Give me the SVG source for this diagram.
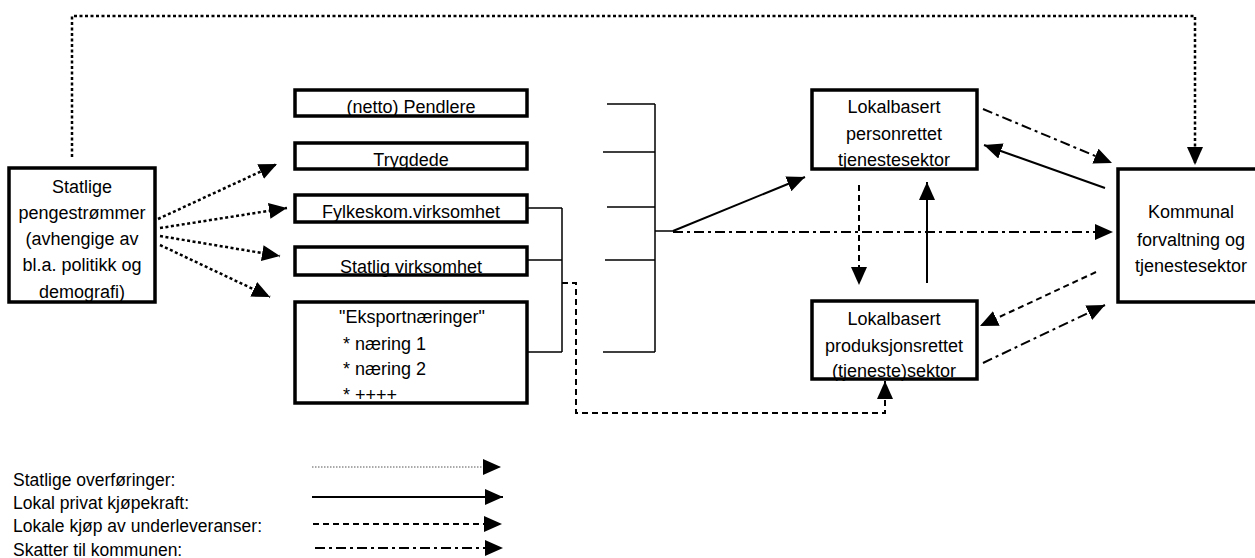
<svg xmlns="http://www.w3.org/2000/svg" width="1255" height="558" viewBox="0 0 1255 558">
<style>
text{font-family:"Liberation Sans",Arial,sans-serif;font-size:18px;fill:#000}
.c{text-anchor:middle}
.box{fill:#fff;stroke:#000;stroke-width:3.5}
.br{fill:none;stroke:#000;stroke-width:1.5}
.dot{fill:none;stroke:#000;stroke-width:2.5;stroke-dasharray:3 2.5}
.sol{fill:none;stroke:#000;stroke-width:2}
.dash{fill:none;stroke:#000;stroke-width:2;stroke-dasharray:6 4}
.dd{fill:none;stroke:#000;stroke-width:2;stroke-dasharray:10 4 3 4}
.lg{font-size:17.5px}
</style>
<defs>
<marker id="ah" markerUnits="userSpaceOnUse" markerWidth="18" markerHeight="16" refX="18" refY="8" orient="auto" viewBox="0 0 18 16">
<path d="M0,0 L18,8 L0,16 z" fill="#000"/>
</marker>
</defs>

<g id="connectors">
<path class="dot" d="M72,157 V16 H1195 V165" marker-end="url(#ah)"/>
<path class="dot" d="M158,219 L277,164" marker-end="url(#ah)"/>
<path class="dot" d="M160,228 L287,208" marker-end="url(#ah)"/>
<path class="dot" d="M160,236 L280,256" marker-end="url(#ah)"/>
<path class="dot" d="M160,245 L270,297" marker-end="url(#ah)"/>
<path class="br" d="M527,208 H562 M527,260 H562 M527,352 H562 M562,208 V352"/>
<path class="dash" d="M562,283 H576 V413 H885 V381" marker-end="url(#ah)"/>
<path class="br" d="M607,104 H655 M603,152 H655 M607,207 H655 M605,260 H655 M603,352 H655 M655,104 V352 M655,231 H673"/>
<path class="sol" d="M673,231 L805,177" marker-end="url(#ah)"/>
<path class="dd" d="M673,232 H1113" marker-end="url(#ah)"/>
<path class="dash" d="M859,185 V285" marker-end="url(#ah)"/>
<path class="sol" d="M927,283 V182" marker-end="url(#ah)"/>
<path class="dd" d="M983,109 L1112,163" marker-end="url(#ah)"/>
<path class="sol" d="M1105,188 L984,145" marker-end="url(#ah)"/>
<path class="dash" d="M1096,272 L980,326" marker-end="url(#ah)"/>
<path class="dd" d="M983,363 L1105,305" marker-end="url(#ah)"/>
</g>

<g id="statlige">
<rect class="box" x="9" y="168" width="146" height="134"/>
<text class="c" x="82" y="193">Statlige</text>
<text class="c" x="82" y="219">pengestrømmer</text>
<text class="c" x="82" y="245">(avhengige av</text>
<text class="c" x="82" y="271">bl.a. politikk og</text>
<text class="c" x="82" y="298">demografi)</text>
</g>

<g id="pendlere">
<rect class="box" x="295" y="90" width="232" height="26"/>
<text class="c" x="411" y="113">(netto) Pendlere</text>
</g>
<g id="trygdede">
<rect class="box" x="295" y="143" width="232" height="26"/>
<text class="c" x="411" y="166">Trygdede</text>
</g>
<g id="fylkeskom">
<rect class="box" x="295" y="195" width="232" height="27"/>
<text class="c" x="411" y="218">Fylkeskom.virksomhet</text>
</g>
<g id="statlig">
<rect class="box" x="295" y="247" width="232" height="28"/>
<text class="c" x="411" y="273">Statlig virksomhet</text>
</g>
<g id="eksport">
<rect class="box" x="295" y="302" width="232" height="101"/>
<text x="339" y="323">"Eksportnæringer"</text>
<text x="343" y="350">* næring 1</text>
<text x="343" y="375">* næring 2</text>
<text x="343" y="401">* ++++</text>
</g>

<g id="personrettet">
<rect class="box" x="812" y="90" width="165" height="79"/>
<text class="c" x="894" y="113">Lokalbasert</text>
<text class="c" x="894" y="140">personrettet</text>
<text class="c" x="894" y="166">tjenestesektor</text>
</g>
<g id="produksjonsrettet">
<rect class="box" x="812" y="301" width="165" height="78"/>
<text class="c" x="894" y="325">Lokalbasert</text>
<text class="c" x="894" y="352">produksjonsrettet</text>
<text class="c" x="894" y="377">(tjeneste)sektor</text>
</g>
<g id="kommunal">
<rect class="box" x="1118" y="169" width="142" height="133"/>
<text class="c" x="1191" y="218">Kommunal</text>
<text class="c" x="1191" y="246">forvaltning og</text>
<text class="c" x="1191" y="272">tjenestesektor</text>
</g>

<g id="legend">
<text class="lg" x="13" y="486">Statlige overføringer:</text>
<text class="lg" x="13" y="509">Lokal privat kjøpekraft:</text>
<text class="lg" x="13" y="532">Lokale kjøp av underleveranser:</text>
<text class="lg" x="13" y="556">Skatter til kommunen:</text>
<path d="M312,467 H501" fill="none" stroke="#555" stroke-width="1" stroke-dasharray="1.5 1.5" marker-end="url(#ah)"/>
<path class="sol" d="M312,497 H503" marker-end="url(#ah)"/>
<path class="dash" d="M313,524 H502" marker-end="url(#ah)"/>
<path class="dd" d="M315,548 H503" marker-end="url(#ah)"/>
</g>
</svg>
